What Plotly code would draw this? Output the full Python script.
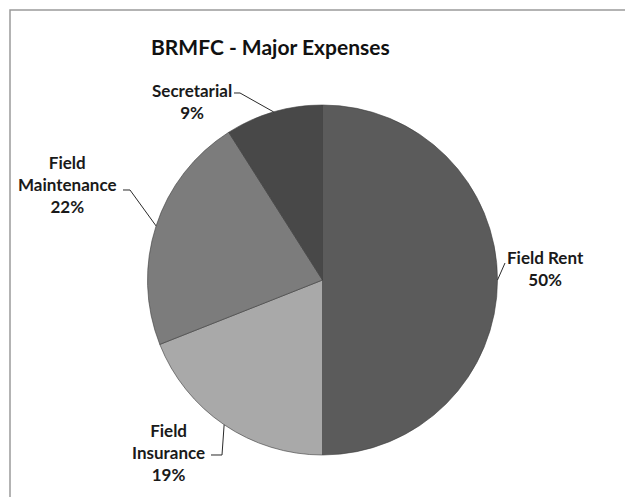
import math
import plotly.graph_objects as go

W, H = 625, 497

# ---- data ----
categories = ["Field Rent", "Field Insurance", "Field Maintenance", "Secretarial"]
values = [50, 19, 22, 9]
label_text = ["Field Rent<br>50%", "Field<br>Insurance<br>19%", "Field<br>Maintenance<br>22%", "Secretarial<br>9%"]
colors = ["#5b5b5b", "#a9a9a9", "#7c7c7c", "#484848"]
title_text = "BRMFC - Major Expenses"

# ---- layout geometry (px) ----
cx, cy, R = 322.5, 280.0, 175.0
label_pos = [(545, 268), (169, 452), (67, 184), (192, 101)]
# elbow points of leader lines (from slice edge toward label)
elbows = [
    [(505, 263)],
    [(222, 455), (211, 455)],
    [(130, 190), (123, 190)],
    [(240, 93), (234, 93)],
]


def px(x):
    return x / W


def py(y):
    return 1 - y / H


fig = go.Figure(
    go.Pie(
        labels=categories,
        values=values,
        sort=False,
        direction="clockwise",
        rotation=0,
        marker=dict(colors=colors, line=dict(color="#3c3c3c", width=0.6)),
        textinfo="none",
        hoverinfo="label+percent",
        showlegend=False,
        domain=dict(x=[px(cx - R), px(cx + R)], y=[py(cy + R), py(cy - R)]),
    )
)

shapes = [
    dict(type="rect", xref="paper", yref="paper",
         x0=px(10), x1=px(W + 20), y0=py(H + 20), y1=py(10),
         line=dict(color="#9a9a9a", width=1.5), fillcolor="rgba(0,0,0,0)", layer="below")
]

total = sum(values)
cum = 0.0
annotations = []
for i, v in enumerate(values):
    mid = (cum + v / 2) / total * 2 * math.pi
    cum += v
    tx = cx + R * math.sin(mid)
    ty = cy - R * math.cos(mid)
    pts = [(tx, ty)] + elbows[i]
    path = "M " + " L ".join(f"{px(x):.5f},{py(y):.5f}" for x, y in pts)
    shapes.append(dict(type="path", xref="paper", yref="paper", path=path,
                       line=dict(color="#2a2a2a", width=1)))
    lx, ly = label_pos[i]
    annotations.append(dict(
        x=px(lx), y=py(ly), xref="paper", yref="paper", text=label_text[i],
        showarrow=False, xanchor="center", yanchor="middle", align="center",
        font=dict(family="Lato", size=17, color="#1a1a1a", weight="bold"),
    ))

annotations.append(dict(
    x=px(270), y=py(47), xref="paper", yref="paper", text=title_text,
    showarrow=False, xanchor="center", yanchor="middle",
    font=dict(family="Lato", size=21, color="#111111", weight="bold"),
))

fig.update_layout(
    width=W, height=H,
    margin=dict(l=0, r=0, t=0, b=0),
    paper_bgcolor="white", plot_bgcolor="white",
    shapes=shapes, annotations=annotations,
)

fig.write_html("out.html")
